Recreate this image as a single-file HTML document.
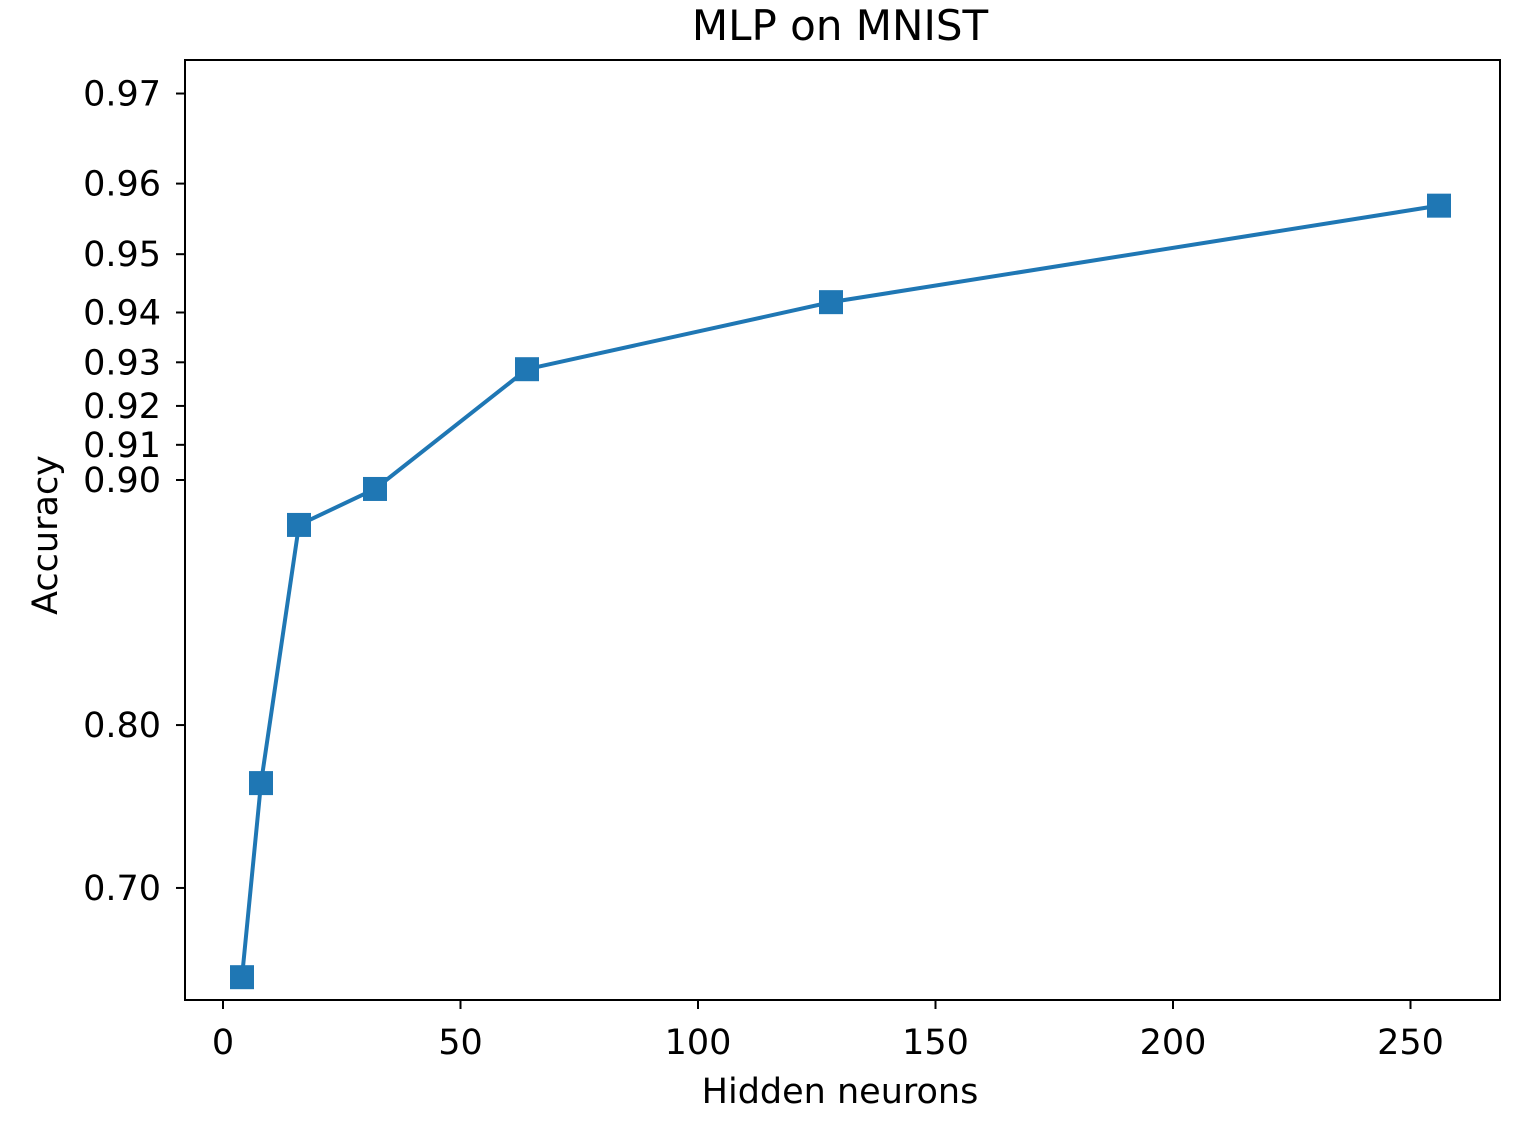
<!DOCTYPE html>
<html><head><meta charset="utf-8"><style>
body{margin:0;background:#fff;}
text{font-family:"DejaVu Sans","Liberation Sans",sans-serif;fill:#000;}
</style></head><body>
<svg id="chart" width="1526" height="1117">
<rect x="185" y="60" width="1315" height="940" fill="none" stroke="#000" stroke-width="2"/>
<text x="840" y="40" font-size="42" text-anchor="middle">MLP on MNIST</text>
<text x="840" y="1103" font-size="35" text-anchor="middle">Hidden neurons</text>
<text transform="translate(57,535) rotate(-90)" font-size="35" text-anchor="middle">Accuracy</text>
<g id="ticks"></g>
<g id="series"></g>
</svg>
<script>
const neurons=[4,8,16,32,64,128,256];
const accuracy=[0.6346,0.7675,0.8858,0.8973,0.9285,0.9419,0.9571];
const xTicks=[0,50,100,150,200,250];
const yTicks=[0.70,0.80,0.90,0.91,0.92,0.93,0.94,0.95,0.96,0.97];
const NS='http://www.w3.org/2000/svg';
function xS(v){return 223+v*4.75;}
function logit(p){return Math.log(p/(1-p));}
function yS(p){return 480-(logit(p)-logit(0.9))*302.2;}
const tg=document.getElementById('ticks');
function mk(t,a,p){const e=document.createElementNS(NS,t);for(const k in a)e.setAttribute(k,a[k]);p.appendChild(e);return e;}
xTicks.forEach(v=>{
 const l=mk('line',{x1:xS(v),x2:xS(v),y1:1000,y2:1009,stroke:'#000','stroke-width':2},tg);
 
 
 const t=mk('text',{x:xS(v),y:1054,'font-size':35,'text-anchor':'middle'},tg);
 t.textContent=v;
 
 
});
yTicks.forEach(v=>{
 const l=mk('line',{x1:176,x2:185,y1:yS(v),y2:yS(v),stroke:'#000','stroke-width':2},tg);
 
 
 const t=mk('text',{x:161,y:yS(v)+12,'font-size':35,'text-anchor':'end'},tg);
 t.textContent=v.toFixed(2);
 
 
});
const sg=document.getElementById('series');
const pts=neurons.map((n,i)=>xS(n)+','+yS(accuracy[i])).join(' ');
const pl=mk('polyline',{points:pts,fill:'none',stroke:'#1f77b4','stroke-width':4},sg);


neurons.forEach((n,i)=>{
 const r=mk('rect',{x:xS(n)-12,y:yS(accuracy[i])-12,width:24,height:24,fill:'#1f77b4'},sg);
 
 
});
</script>
</body></html>
